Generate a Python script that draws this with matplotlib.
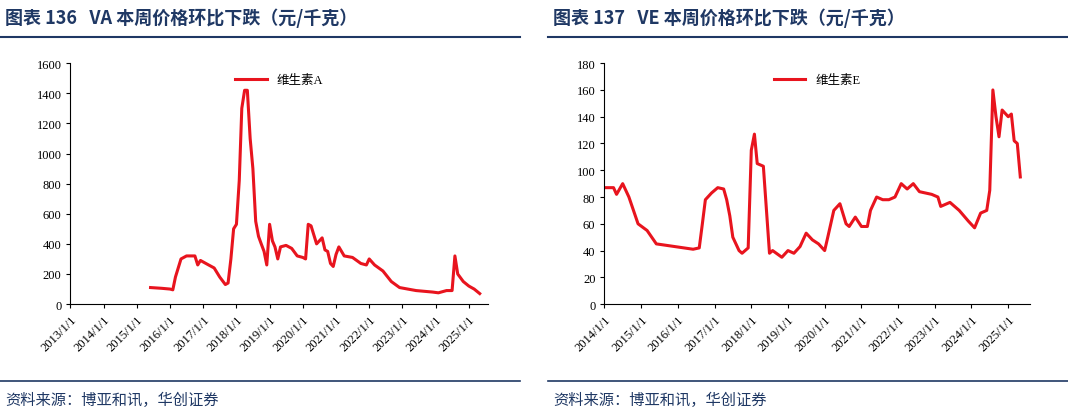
import matplotlib
matplotlib.use("Agg")
import matplotlib.pyplot as plt
import matplotlib.dates as mdates
import pandas as pd
from matplotlib.lines import Line2D

va_dates = ["2015-06","2015-10","2016-01","2016-02","2016-03","2016-05","2016-07","2016-10","2016-11","2016-12","2017-03","2017-05","2017-07","2017-09","2017-10","2017-11","2017-12","2018-01","2018-02","2018-03","2018-04","2018-05","2018-06","2018-07","2018-08","2018-09","2018-10","2018-11","2018-12","2019-01","2019-02","2019-03","2019-04","2019-05","2019-07","2019-09","2019-11","2020-01","2020-02","2020-03","2020-04","2020-06","2020-08","2020-09","2020-10","2020-11","2020-12","2021-01","2021-02","2021-04","2021-07","2021-10","2021-12","2022-01","2022-03","2022-06","2022-09","2022-12","2023-03","2023-06","2023-12","2024-02","2024-05","2024-07","2024-08","2024-09","2024-11","2025-01","2025-03","2025-05"]
va_vals = [110,105,100,95,180,300,320,320,260,290,260,240,180,130,140,300,500,530,820,1300,1420,1420,1100,900,550,450,400,350,260,530,420,380,300,380,390,370,320,310,300,530,520,400,440,360,350,270,250,330,380,320,310,270,260,300,260,220,150,110,100,90,80,75,90,90,320,200,150,120,100,70]

ve_dates = ["2014-01","2014-04","2014-05","2014-07","2014-09","2014-12","2015-03","2015-06","2015-12","2016-06","2016-08","2016-09","2016-10","2016-12","2017-02","2017-04","2017-05","2017-06","2017-07","2017-09","2017-10","2017-12","2018-01","2018-02","2018-03","2018-05","2018-06","2018-07","2018-08","2018-11","2019-01","2019-03","2019-05","2019-07","2019-09","2019-11","2020-01","2020-02","2020-04","2020-06","2020-08","2020-09","2020-11","2021-01","2021-03","2021-04","2021-06","2021-08","2021-10","2021-12","2022-02","2022-04","2022-06","2022-08","2022-12","2023-02","2023-03","2023-06","2023-09","2023-12","2024-02","2024-04","2024-06","2024-07","2024-08","2024-09","2024-10","2024-11","2025-01","2025-02","2025-03","2025-04","2025-05"]
ve_vals = [87,87,82,90,80,60,55,45,43,41,42,60,78,83,87,86,78,66,50,40,38,42,115,127,105,103,70,38,40,35,40,38,43,53,48,45,40,50,70,75,60,58,65,58,58,70,80,78,78,80,90,86,90,84,82,80,73,76,70,62,57,68,70,85,160,140,125,145,140,142,122,120,95]

navy = "#1F3864"
red = "#E8141E"
cjk = "Noto Sans CJK SC"
serif = "Liberation Serif"

fig = plt.figure(figsize=(10.68, 4.14), dpi=100)

panels = [
    dict(x0=0.0, x1=0.487, ax=[0.066, 0.263, 0.391, 0.582], title="图表 136   VA 本周价格环比下跌（元/千克）",
         d=va_dates, v=va_vals, label="维生素A", ylim=(0, 1600), yt=range(0, 1601, 200), start=2013),
    dict(x0=0.513, x1=1.0, ax=[0.566, 0.263, 0.398, 0.582], title="图表 137   VE 本周价格环比下跌（元/千克）",
         d=ve_dates, v=ve_vals, label="维生素E", ylim=(0, 180), yt=range(0, 181, 20), start=2014),
]

for p in panels:
    fig.text(p["x0"] + 0.005, 0.955, p["title"], fontfamily=cjk, fontweight="bold", fontsize=13, color=navy, va="center")
    fig.add_artist(Line2D([p["x0"], p["x1"]], [0.908, 0.908], color=navy, lw=1.5))
    fig.add_artist(Line2D([p["x0"], p["x1"]], [0.077, 0.077], color=navy, lw=1.2))
    fig.text(p["x0"] + 0.005, 0.033, "资料来源：博亚和讯，华创证券", fontfamily=cjk, fontstyle="italic", fontsize=11, color=navy, va="center")
    ax = fig.add_axes(p["ax"])
    ax.plot(pd.to_datetime(p["d"]), p["v"], color=red, lw=2.2, label=p["label"])
    ax.set_ylim(*p["ylim"])
    ax.set_yticks(list(p["yt"]))
    ax.set_xlim(pd.Timestamp(f"{p['start']}-01-01"), pd.Timestamp("2025-08-01"))
    ax.set_xticks([pd.Timestamp(f"{y}-01-01") for y in range(p["start"], 2026)])
    ax.set_xticklabels([f"{y}/1/1" for y in range(p["start"], 2026)], rotation=45, ha="right", rotation_mode="anchor")
    for s in ["top", "right"]:
        ax.spines[s].set_visible(False)
    for t in ax.get_xticklabels() + ax.get_yticklabels():
        t.set_fontfamily(serif)
        t.set_fontsize(9)
    ax.tick_params(length=3, direction="out")
    leg = ax.legend(loc="upper center", frameon=False, prop={"family": [serif, cjk], "size": 9}, handlelength=2.5)

fig.savefig("out.png", dpi=100)
